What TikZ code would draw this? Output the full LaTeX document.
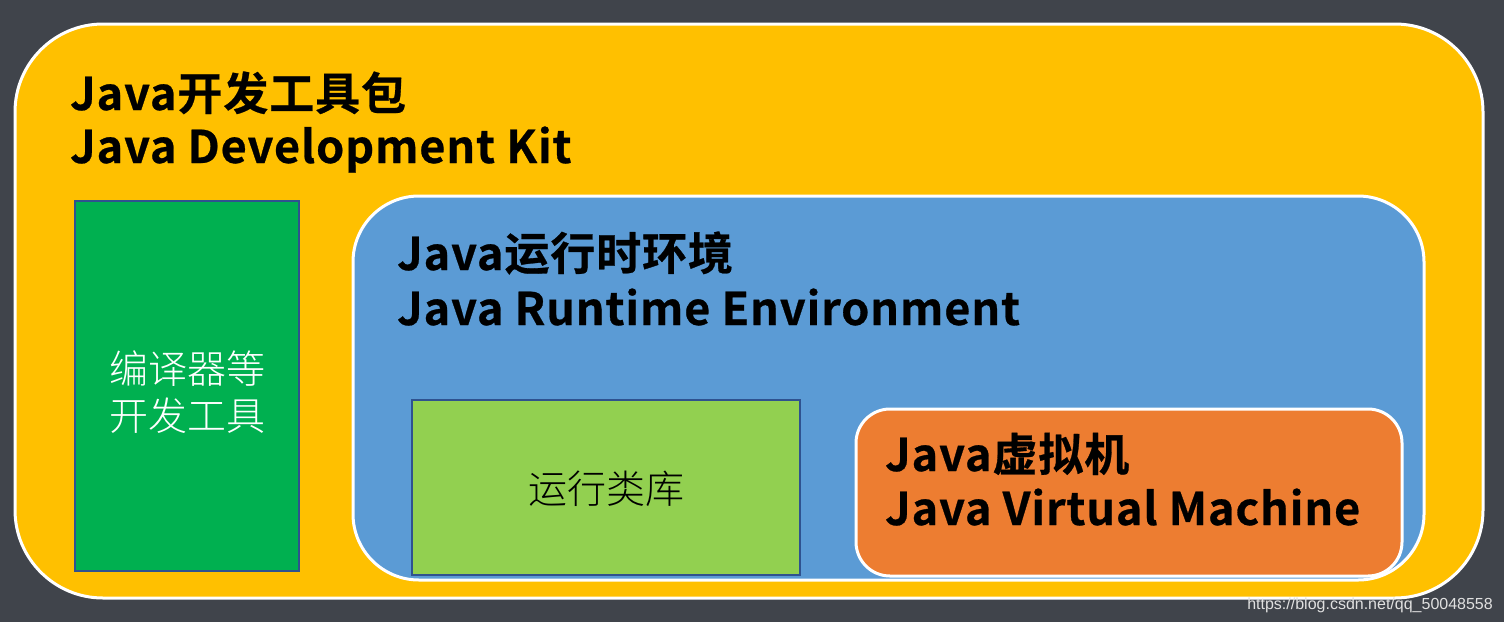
\documentclass[tikz,border=0pt]{standalone}
\usepackage{fontspec}
\newfontfamily\cjkb[LetterSpace=2.0,FakeBold=0.6]{Noto Sans CJK SC Bold}
\newfontfamily\cjkl{Noto Sans CJK SC Light}
\newfontfamily\wm{Liberation Sans}
\definecolor{bgdark}{HTML}{40444B}
\definecolor{jdky}{HTML}{FFC000}
\definecolor{jreb}{HTML}{5B9BD5}
\definecolor{jvmo}{HTML}{ED7D31}
\definecolor{toolg}{HTML}{00B050}
\definecolor{libg}{HTML}{92D050}
\definecolor{edgeb}{HTML}{2F528F}
\tikzset{
  roundbox/.style={draw=white, line width=3pt},
  plainbox/.style={draw=edgeb, line width=1.2pt},
  title/.style={anchor=base west, inner sep=0pt, align=left, font=\fontsize{45}{53}\cjkb, text=black},
  body/.style={inner sep=0pt, align=center, font=\fontsize{39}{47}\cjkl},
}
\begin{document}
\begin{tikzpicture}[x=1pt,y=-1pt]
\useasboundingbox (0,0) rectangle (1504,622);
\fill[bgdark] (0,0) rectangle (1504,622);
% JDK
\draw[roundbox, fill=jdky, rounded corners=88pt] (15,24) rectangle (1483,598);
\node[title] (jdk1) at (70,110) {Java开发工具包};
\node[title] (jdk2) at (70,163) {Java Development Kit};
% tools
\draw[plainbox, fill=toolg] (75,201) rectangle (299,571);
\node[body, text=white] (tools) at (187,392) {编译器等\\开发工具};
% JRE
\draw[roundbox, fill=jreb, rounded corners=66pt] (353,196) rectangle (1424,580);
\node[title] (jre1) at (397,270) {Java运行时环境};
\node[title] (jre2) at (397,325) {Java Runtime Environment};
% lib
\draw[plainbox, fill=libg] (412,400) rectangle (800,575);
\node[body, text=black] (lib) at (606,489) {运行类库};
% JVM
\draw[roundbox, fill=jvmo, rounded corners=34pt] (856,409) rectangle (1402,576);
\node[title] (jvm1) at (885,471) {Java虚拟机};
\node[title] (jvm2) at (885,525) {Java Virtual Machine};
% watermark
\node[anchor=base east, inner sep=0pt, font=\fontsize{16}{18}\wm, text=white!88!black] (wmk) at (1493,609) {https://blog.csdn.net/qq\_50048558};
\end{tikzpicture}
\end{document}
